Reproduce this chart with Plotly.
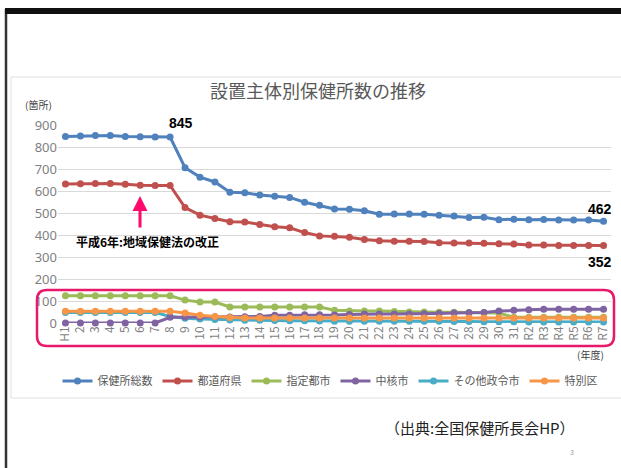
import plotly.graph_objects as go

W, H = 621, 468
L, R, T, B = 58, 10, 125, 145
PW, PH = W - L - R, H - T - B

categories = ["H1"] + [str(i) for i in range(2, 32)] + ["R2", "R3", "R4", "R5", "R6", "R7"]

total = [848, 850, 852, 852, 848, 847, 845, 845, 706, 663, 641, 594, 592, 582, 576, 571,
         549, 535, 518, 517, 510, 494, 495, 495, 494, 490, 486, 480, 481, 469, 472,
         469, 470, 468, 468, 468, 462]
prefectures = [632, 633, 634, 634, 631, 626, 625, 625, 525, 490, 475, 460, 459, 448, 438, 433,
               411, 396, 394, 390, 380, 374, 372, 372, 370, 365, 364, 364, 363, 360, 359,
               355, 354, 352, 352, 352, 352]
designated = [124, 124, 124, 124, 124, 124, 124, 124, 104, 95, 95, 73, 73, 73, 73, 73,
              73, 73, 58, 55, 55, 54, 52, 50, 50, 49, 49, 48, 48, 45, 26,
              26, 26, 26, 26, 26, 26]
core = [0, 0, 0, 0, 0, 0, 0, 26, 27, 27, 28, 27, 28, 30, 35, 35,
        37, 37, 36, 39, 41, 41, 41, 41, 42, 43, 45, 47, 48, 54, 58,
        60, 62, 62, 62, 62, 62]
other_cities = [48, 48, 48, 48, 48, 48, 48, 30, 22, 18, 16, 14, 13, 12, 11, 10,
                10, 9, 8, 8, 8, 8, 8, 8, 8, 8, 7, 7, 6, 6, 6,
                5, 5, 5, 5, 5, 5]
wards = [53, 53, 53, 53, 53, 53, 53, 53, 45, 35, 30, 25, 23, 23, 23, 23,
         23, 23, 23, 23, 23, 23, 23, 23, 23, 23, 23, 23, 23, 23, 23,
         23, 23, 23, 23, 23, 23]

series_names = ["保健所総数", "都道府県", "指定都市", "中核市", "その他政令市", "特別区"]
series_values = [total, prefectures, designated, core, other_cities, wards]
colors = ["#4F81BD", "#C0504D", "#9BBB59", "#8064A2", "#4BACC6", "#F79646"]

y_ticks = [0, 100, 200, 300, 400, 500, 600, 700, 800, 900]

JP = "Noto Sans CJK JP, Noto Sans, sans-serif"

fig = go.Figure()
order = [0, 1, 2, 4, 3, 5]
for i in order:
    fig.add_trace(go.Scatter(
        x=categories, y=series_values[i], name=series_names[i],
        mode="lines+markers",
        line=dict(color=colors[i], width=3),
        marker=dict(color=colors[i], size=7),
        cliponaxis=False,
        legendrank=i + 1,
    ))


def px(x):
    return (x - L) / PW


def py(y):
    return (H - y - B) / PH


shapes = []
# outer black frame (left + top)
shapes.append(dict(type="line", xref="paper", yref="paper", x0=px(6), x1=px(6), y0=py(470), y1=py(9),
                   line=dict(color="#333333", width=2.5)))
shapes.append(dict(type="rect", xref="paper", yref="paper", x0=px(5), x1=px(625), y0=py(8), y1=py(14),
                   line=dict(width=0), fillcolor="#111111"))
# chart panel border
shapes.append(dict(type="rect", xref="paper", yref="paper", x0=px(11), x1=px(640), y0=py(77), y1=py(398),
                   line=dict(color="#E0E0E0", width=1), layer="below"))
# pink rounded box
x0, x1, y0, y1, r = 37, 614, 290, 346, 10
path = (f"M {px(x0 + r)} {py(y0)} L {px(x1 - r)} {py(y0)} Q {px(x1)} {py(y0)} {px(x1)} {py(y0 + r)} "
        f"L {px(x1)} {py(y1 - r)} Q {px(x1)} {py(y1)} {px(x1 - r)} {py(y1)} "
        f"L {px(x0 + r)} {py(y1)} Q {px(x0)} {py(y1)} {px(x0)} {py(y1 - r)} "
        f"L {px(x0)} {py(y0 + r)} Q {px(x0)} {py(y0)} {px(x0 + r)} {py(y0)} Z")
shapes.append(dict(type="path", xref="paper", yref="paper", path=path,
                   line=dict(color="#E8196B", width=2.5)))


def note(text, x, y, size, color, family=JP):
    return dict(text=text, xref="paper", yref="paper", x=px(x), y=py(y), xanchor="center",
                yanchor="middle", showarrow=False, font=dict(family=family, size=size, color=color))


BOLD = "Liberation Sans, Arial"
annotations = [
    note("(箇所)", 38, 104, 10, "#404040"),
    note("(年度)", 590, 354, 10, "#404040"),
    dict(text="<b>845</b>", x=7, y=total[7], xshift=11, yshift=14, showarrow=False,
         font=dict(family=BOLD, size=14, color="#000000")),
    dict(text="<b>462</b>", x=36, y=total[-1], xshift=-4, yshift=12, showarrow=False,
         font=dict(family=BOLD, size=14, color="#000000")),
    dict(text="<b>352</b>", x=36, y=prefectures[-1], xshift=-4, yshift=-16, showarrow=False,
         font=dict(family=BOLD, size=14, color="#000000")),
    dict(text="", xref="paper", yref="paper", x=px(140), y=py(196), ax=0, ay=33,
         showarrow=True, arrowhead=2, arrowsize=1, arrowwidth=3, arrowcolor="#FF0A6C"),
    note("<b>平成6年:地域保健法の改正</b>", 147, 241, 12, "#000000"),
    note("（出典:全国保健所長会HP）", 480, 427, 15, "#222222"),
    note("3", 572, 452, 7, "#999999"),
]

fig.update_layout(
    width=W, height=H,
    margin=dict(l=L, r=R, t=T, b=B),
    paper_bgcolor="white", plot_bgcolor="white",
    title=dict(text="設置主体別保健所数の推移", xref="container", yref="container",
               x=318 / W, y=1 - 92 / H, xanchor="center", yanchor="middle",
               font=dict(family=JP, size=18, color="#595959")),
    xaxis=dict(type="category", range=[-0.5, len(categories) - 0.5], tickangle=-90,
               showgrid=False, showline=False, ticks="", zeroline=False,
               tickfont=dict(family=JP, size=12, color="#7F7F7F")),
    yaxis=dict(range=[0, 900], tickvals=y_ticks, showgrid=True, gridcolor="#D9D9D9", gridwidth=1,
               zeroline=False, showline=False, ticks="",
               tickfont=dict(family="Noto Sans, sans-serif", size=13, color="#7F7F7F")),
    legend=dict(orientation="h", x=px(330), xanchor="center", y=py(381), yanchor="middle",
                font=dict(family=JP, size=11, color="#595959"), itemwidth=30,
                traceorder="normal", bgcolor="rgba(0,0,0,0)"),
    shapes=shapes,
    annotations=annotations,
    showlegend=True,
)

fig.write_html("out.html", config={"displayModeBar": False},
               post_script="document.body.style.margin='0';document.body.style.overflow='hidden';")
